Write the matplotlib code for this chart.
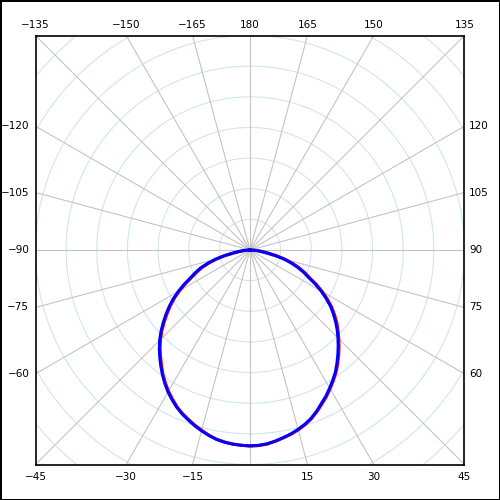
import numpy as np
import matplotlib
matplotlib.use('Agg')
import matplotlib.pyplot as plt

# angle in degrees (0 at bottom, positive toward the right), radius in grid units
angles = [-90, -87.5, -85, -82.5, -80, -77.5, -75, -72.5, -70, -67.5, -65, -62.5, -60, -57.5, -55, -52.5,
          -50, -47.5, -45, -42.5, -40, -37.5, -35, -32.5, -30, -27.5, -25, -22.5, -20, -17.5, -15, -12.5,
          -10, -7.5, -5, -2.5, 0, 2.5, 5, 7.5, 10, 12.5, 15, 17.5, 20, 22.5, 25, 27.5, 30, 32.5, 35, 37.5,
          40, 42.5, 45, 47.5, 50, 52.5, 55, 57.5, 60, 62.5, 65, 67.5, 70, 72.5, 75, 77.5, 80, 82.5, 85, 87.5, 90]
r_blue = [0.0, 0.08, 0.22, 0.38, 0.57, 0.87, 1.17, 1.45, 1.72, 1.93, 2.14, 2.42, 2.70, 2.97, 3.22, 3.46,
          3.70, 3.94, 4.17, 4.38, 4.58, 4.78, 4.98, 5.17, 5.35, 5.51, 5.66, 5.79, 5.90, 6.01, 6.11, 6.20,
          6.28, 6.33, 6.36, 6.38, 6.39, 6.38, 6.35, 6.29, 6.22, 6.15, 6.06, 5.96, 5.84, 5.69, 5.52, 5.37,
          5.20, 5.03, 4.86, 4.66, 4.46, 4.26, 4.06, 3.86, 3.65, 3.43, 3.21, 2.95, 2.68, 2.40, 2.10, 1.89,
          1.66, 1.41, 1.15, 0.86, 0.57, 0.38, 0.22, 0.08, 0.0]
r_red = [0.0, 0.02, 0.16, 0.32, 0.51, 0.81, 1.11, 1.39, 1.66, 1.87, 2.09, 2.37, 2.65, 2.92, 3.17, 3.41,
         3.65, 3.90, 4.13, 4.34, 4.54, 4.74, 4.95, 5.14, 5.32, 5.48, 5.64, 5.77, 5.88, 5.99, 6.09, 6.19,
         6.27, 6.32, 6.36, 6.38, 6.40, 6.39, 6.36, 6.30, 6.23, 6.16, 6.08, 5.98, 5.86, 5.71, 5.55, 5.40,
         5.23, 5.06, 4.89, 4.70, 4.50, 4.30, 4.10, 3.90, 3.70, 3.48, 3.26, 3.00, 2.73, 2.45, 2.15, 1.94,
         1.71, 1.47, 1.21, 0.92, 0.63, 0.44, 0.28, 0.14, 0.0]

spoke_angles = np.arange(0, 360, 15)
ring_radii = [1, 2, 3, 4, 5, 6, 7, 8, 9, 10]
top_labels = [-135, -150, -165, 180, 165, 150, 135]
left_labels = [-120, -105, -90, -75, -60]
right_labels = [120, 105, 90, 75, 60]
bottom_labels = [-45, -30, -15, 15, 30, 45]
rmax = 7


def to_xy(theta_deg, r):
    t = np.radians(np.asarray(theta_deg, dtype=float))
    r = np.asarray(r, dtype=float)
    return r * np.sin(t), -r * np.cos(t)


fig = plt.figure(figsize=(5, 5), dpi=100)
fig.patch.set_edgecolor('black')
fig.patch.set_linewidth(2)
ax = fig.add_axes([0.071, 0.071, 0.858, 0.858])
ax.set_xlim(-rmax, rmax)
ax.set_ylim(-rmax, rmax)
ax.set_aspect('equal')
ax.set_xticks([])
ax.set_yticks([])
for s in ax.spines.values():
    s.set_linewidth(1.2)

# grid rings and spokes
circ_t = np.linspace(0, 360, 721)
for rr in ring_radii:
    x, y = to_xy(circ_t, np.full_like(circ_t, rr))
    ax.plot(x, y, color='#cfe6ec', lw=0.8, zorder=1)
for a in spoke_angles:
    x, y = to_xy([a, a], [0, 12])
    ax.plot(x, y, color='#c4c4c4', lw=0.8, zorder=1)

# data curves
xr, yr = to_xy(angles, r_red)
ax.plot(xr, yr, color='#ff0000', lw=2.2, zorder=3, solid_joinstyle='round')
xb, yb = to_xy(angles, r_blue)
ax.plot(xb, yb, color='#0000ff', lw=2.2, zorder=4, solid_joinstyle='round')

# angle labels around the box
def fmt(v):
    return str(v).replace('-', '\u2212')

fs = 7.5
for v in top_labels:
    d = 180 - abs(v)
    x = rmax * np.tan(np.radians(d)) * np.sign(v) if v != 180 else 0.0
    ax.text(x, rmax + 0.33, fmt(v), ha='center', va='center', fontsize=fs)
for v in bottom_labels:
    x = rmax * np.tan(np.radians(v))
    ax.text(x, -rmax - 0.4, fmt(v), ha='center', va='center', fontsize=fs)
for v in left_labels:
    y = -rmax / np.tan(np.radians(abs(v))) if abs(v) != 90 else 0.0
    ax.text(-rmax - 0.2, y, fmt(v), ha='right', va='center', fontsize=fs)
for v in right_labels:
    y = -rmax / np.tan(np.radians(v)) if v != 90 else 0.0
    ax.text(rmax + 0.15, y, fmt(v), ha='left', va='center', fontsize=fs)

fig.savefig('out.png', dpi=100)
